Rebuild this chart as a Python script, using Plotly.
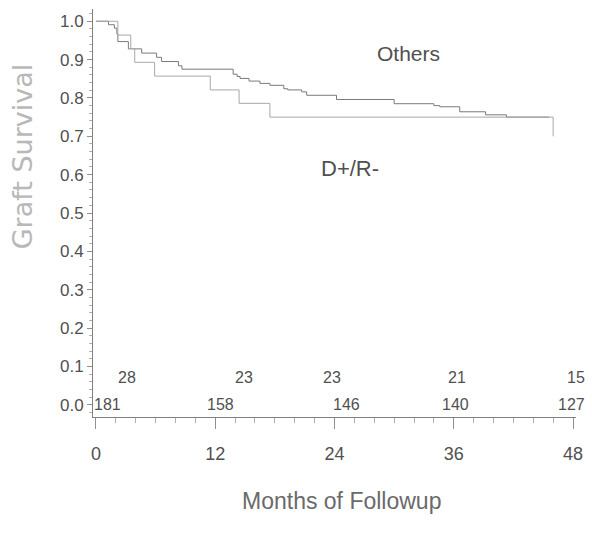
import plotly.graph_objects as go

# Kaplan-Meier step data (months, survival)
others_t = [0, 1.26, 1.85, 2.1, 2.2, 3.26, 4.6, 6.1, 6.6, 8.3, 8.65, 13.8, 14.2, 14.5, 15.4,
            16.5, 17.5, 18.9, 19.3, 20.7, 21.2, 24.2, 30.0, 34.0, 34.6, 36.6, 39.2, 41.3, 45.6]
others_s = [1.0, 0.991, 0.982, 0.967, 0.947, 0.928, 0.917, 0.906, 0.895, 0.884, 0.875, 0.862, 0.856, 0.851, 0.844,
            0.838, 0.833, 0.824, 0.821, 0.816, 0.807, 0.796, 0.785, 0.780, 0.777, 0.764, 0.756, 0.750, 0.750]

dr_t = [0, 2.2, 3.5, 3.9, 5.9, 11.5, 14.4, 17.5, 46.0]
dr_s = [1.0, 0.964, 0.929, 0.893, 0.857, 0.821, 0.786, 0.750, 0.700]

# numbers at risk
risk_dr = ["28", "23", "23", "21", "15"]
risk_others = ["181", "158", "146", "140", "127"]
risk_dr_x = [3.1, 14.9, 23.7, 36.3, 48.0]
risk_others_x = [1.2, 12.5, 25.2, 36.2, 48.0]

x_ticks = [0, 12, 24, 36, 48]
y_ticks = [0.0, 0.1, 0.2, 0.3, 0.4, 0.5, 0.6, 0.7, 0.8, 0.9, 1.0]

FONT = "Liberation Sans Narrow, Arial Narrow, Liberation Sans, sans-serif"
TXT = "#505050"

fig = go.Figure()
fig.add_trace(go.Scatter(x=others_t, y=others_s, mode="lines", line=dict(shape="hv", color="#7a7a7a", width=1),
                         showlegend=False, hoverinfo="skip"))
fig.add_trace(go.Scatter(x=dr_t, y=dr_s, mode="lines", line=dict(shape="hv", color="#a8a8a8", width=1),
                         showlegend=False, hoverinfo="skip"))

ann = []
n = len(risk_dr)
for i, (t, xv) in enumerate(zip(risk_dr, risk_dr_x)):
    last = i == n - 1
    ann.append(dict(x=xv, y=0.072, xref="x", yref="y", text=t, showarrow=False,
                    xanchor="right" if last else "center", xshift=14 if last else 0,
                    font=dict(family=FONT, size=16, color=TXT)))
for i, (t, xv) in enumerate(zip(risk_others, risk_others_x)):
    last = i == n - 1
    ann.append(dict(x=xv, y=0.0, xref="x", yref="y", text=t, showarrow=False,
                    xanchor="right" if last else "center", xshift=14 if last else 0,
                    font=dict(family=FONT, size=16, color=TXT)))
ann.append(dict(x=31.4, y=0.915, xref="x", yref="y", text="Others", showarrow=False,
                font=dict(family=FONT, size=21, color=TXT)))
ann.append(dict(x=25.6, y=0.615, xref="x", yref="y", text="D+/R-", showarrow=False,
                font=dict(family=FONT, size=22, color=TXT)))
ann.append(dict(x=-0.146, y=0.64, xref="paper", yref="paper", text="Graft Survival", showarrow=False,
                textangle=-90, xanchor="center", yanchor="middle",
                font=dict(family="DejaVu Sans", size=27, color="#b8b8b8")))
ann.append(dict(x=0.515, y=-0.206, xref="paper", yref="paper", text="Months of Followup", showarrow=False,
                xanchor="center", yanchor="middle",
                font=dict(family=FONT, size=23, color="#6a6a6a")))

fig.update_layout(
    width=592, height=533,
    margin=dict(l=93, r=12, t=9, b=116),
    paper_bgcolor="white", plot_bgcolor="white",
    annotations=ann,
    xaxis=dict(range=[-0.3, 48.3], tickvals=x_ticks, ticktext=[str(v) for v in x_ticks],
               showgrid=False, zeroline=False, showline=True, linecolor="#808080", linewidth=1,
               ticks="outside", ticklen=11, tickcolor="#909090", tickwidth=1,
               ticklabelstandoff=9,
               tickfont=dict(family=FONT, size=18, color=TXT),
               minor=dict(dtick=2, tick0=0, ticks="outside", ticklen=5, tickcolor="#b0b0b0", showgrid=False)),
    yaxis=dict(range=[-0.032, 1.032], tickvals=y_ticks, tickformat=".1f",
               showgrid=False, zeroline=False, showline=True, linecolor="#808080", linewidth=1,
               ticks="outside", ticklen=5, tickcolor="#909090", tickwidth=1,
               tickfont=dict(family=FONT, size=17, color=TXT),
               minor=dict(dtick=0.02, tick0=0, ticks="outside", ticklen=3, tickcolor="#b0b0b0", showgrid=False)),
)

fig.write_html("out.html", config={"displayModeBar": False},
               post_script="document.body.style.margin='0';document.body.style.padding='0';")
